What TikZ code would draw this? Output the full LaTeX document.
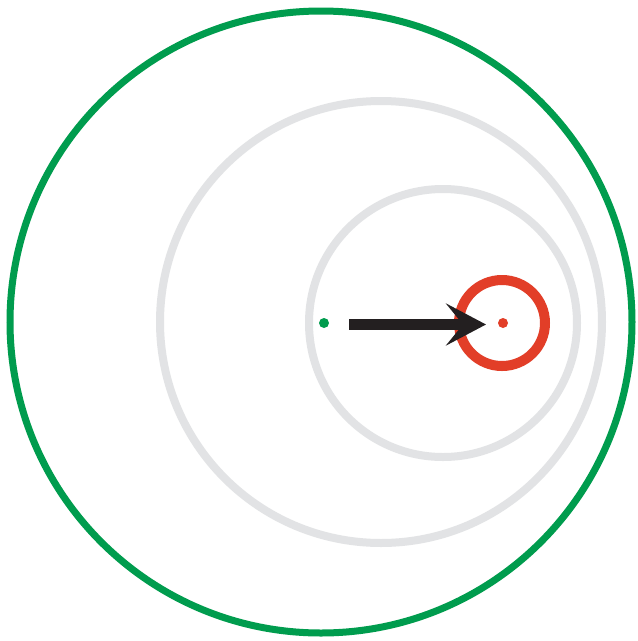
\documentclass[tikz,border=0pt]{standalone}
\usetikzlibrary{arrows.meta}
\definecolor{ringgreen}{RGB}{0,156,78}
\definecolor{ringgray}{RGB}{226,227,229}
\definecolor{ringred}{RGB}{226,62,40}
\definecolor{arrowblack}{RGB}{35,31,32}
\begin{document}
\begin{tikzpicture}[x=1pt,y=-1pt,
  greenring/.style={draw=ringgreen,line width=7pt},
  grayring/.style={draw=ringgray,line width=8pt},
  redring/.style={draw=ringred,line width=10pt},
  dotmark/.style={circle,inner sep=0pt,minimum size=10pt},
  bigarrow/.style={draw=arrowblack,line width=11pt,-{Stealth[length=40pt,width=42pt,inset=17pt]}}]
\useasboundingbox[fill=white] (0,0) rectangle (638,641);
\draw[greenring] (321,322) circle[radius=311];
\draw[grayring] (381,322) circle[radius=221];
\draw[grayring] (443,323) circle[radius=134];
\draw[redring] (502,323) circle[radius=43];
\node[dotmark,fill=ringgreen] (g) at (324,323) {};
\node[dotmark,fill=ringred] (r) at (503,323) {};
\coordinate (as) at (349,324.5);
\coordinate (ae) at (486,324.5);
\draw[bigarrow] (as) -- (ae);
\end{tikzpicture}
\end{document}
